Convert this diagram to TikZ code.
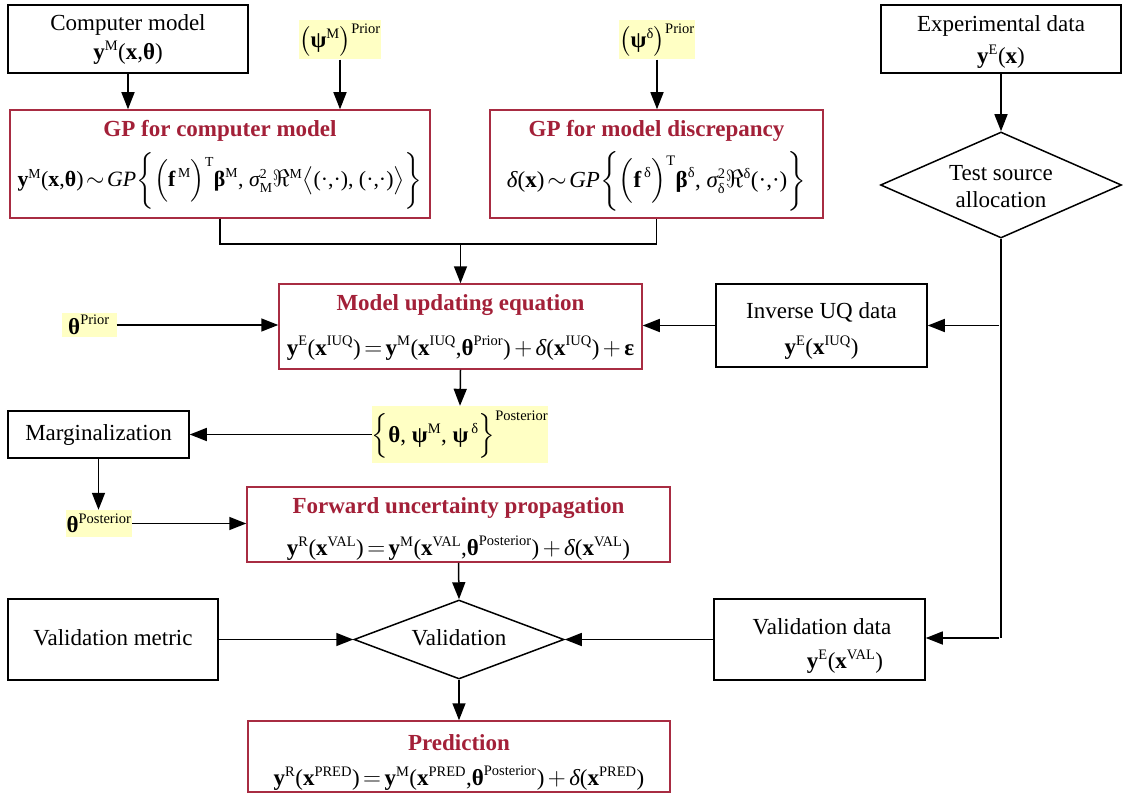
\documentclass[tikz,border=0pt]{standalone}
\usepackage{amsmath}
\usepackage{fontspec}
\setmainfont{Liberation Serif}
\usetikzlibrary{arrows.meta,shapes.geometric}

\definecolor{boxred}{RGB}{168,44,66}
\definecolor{titlered}{RGB}{163,32,56}
\definecolor{hilite}{RGB}{255,255,196}

% upright bold, upright roman and italic pieces set in the text font inside formulas
\newcommand\vbf[1]{\text{\bfseries #1}}
\newcommand\vrm[1]{\text{\normalfont #1}}
\newcommand\vit[1]{\text{\itshape #1}}
% small upright indices
\newcommand\vsp[1]{\text{\normalfont\fontsize{14.5}{15}\selectfont #1}}
% tight relations and operators
\newcommand\vsim{\mskip-3mu\sim\mskip-3mu}
\newcommand\veq{\mskip-2.5mu=\mskip-2.5mu}
\newcommand\vplus{\mskip-1.5mu+\mskip-1.5mu}

\begin{document}
\begin{tikzpicture}[x=1pt,y=-1pt,
  font=\fontsize{23}{27}\selectfont,
  blackbox/.style={draw=black,line width=1.5pt,fill=white,inner sep=0pt},
  redbox/.style={draw=boxred,line width=1.5pt,fill=white,inner sep=0pt},
  dia/.style={diamond,draw=black,line width=1.5pt,fill=white,inner sep=0pt},
  hl/.style={fill=hilite,inner sep=0pt},
  ttl/.style={text=titlered,font=\fontsize{23}{27}\selectfont\bfseries,inner sep=0pt},
  lbl/.style={inner sep=0pt},
  arr/.style={-{Triangle[length=17pt,width=13pt]},line width=1.5pt},
  ln/.style={line width=1.5pt}]

\useasboundingbox (0,0) rectangle (1123,794);

% ---------- top row ----------
\node[blackbox,minimum width=240,minimum height=68] (comp) at (128,39) {};
\node[lbl] (compT) at (128,25) {Computer model};
\node[lbl] (compE) at (128,53) {$\vbf{y}^{\vsp{M}}\vrm{(}\vbf{x}\vrm{,}\vbf{θ}\vrm{)}$};

\node[hl,minimum width=72,minimum height=39] (psiM) at (340,40)
  {$\bigl(\vbf{ψ}^{\vsp{M}}\bigr)^{\vsp{Prior}}$};
\node[hl,minimum width=66,minimum height=39] (psiD) at (657,40)
  {$\bigl(\vbf{ψ}^{\vsp{δ}}\bigr)^{\vsp{Prior}}$};

\node[blackbox,minimum width=240,minimum height=68] (exp) at (1001,39) {};
\node[lbl] (expT) at (1001,26) {Experimental data};
\node[lbl] (expE) at (1001,57) {$\vbf{y}^{\vsp{E}}\vrm{(}\vbf{x}\vrm{)}$};

% ---------- Gaussian process boxes ----------
\node[redbox,minimum width=420,minimum height=108] (gpm) at (220,164) {};
\node[ttl] (gpmT) at (220,131) {GP for computer model};
\node[lbl] (gpmE) at (220,181)
  {\scalebox{0.95}{$\vbf{y}^{\vsp{M}}\vrm{(}\vbf{x}\vrm{,}\vbf{θ}\vrm{)}\vsim\vit{GP}\biggl\{\Bigl(\vbf{f}^{\,\vsp{M}}\Bigr)^{\vsp{T}}\vbf{β}^{\vsp{M}}\vrm{, }\vit{σ}^{\vsp{2}}_{\vsp{M}}\Re^{\vsp{M}}\bigl\langle\vrm{(·,·), (·,·)}\bigr\rangle\biggr\}$}};

\node[redbox,minimum width=333,minimum height=108] (gpd) at (656.5,164) {};
\node[ttl] (gpdT) at (656.5,131) {GP for model discrepancy};
\node[lbl] (gpdE) at (656.5,181)
  {$\vit{δ}\vrm{(}\vbf{x}\vrm{)}\vsim\vit{GP}\biggl\{\Bigl(\vbf{f}^{\,\vsp{δ}}\Bigr)^{\vsp{T}}\vbf{β}^{\vsp{δ}}\vrm{, }\vit{σ}^{\vsp{2}}_{\vsp{δ}}\Re^{\vsp{δ}}\vrm{(·,·)}\biggr\}$};

\node[dia,minimum width=241,minimum height=106] (tsa) at (1001,185) {};
\node[lbl] (tsaT) at (1001,173) {Test source};
\node[lbl] (tsaB) at (1001,200) {allocation};

% ---------- model updating ----------
\node[redbox,minimum width=363,minimum height=85] (mue) at (460.5,326.5) {};
\node[ttl] (mueT) at (460.5,305) {Model updating equation};
\node[lbl] (mueE) at (460.5,348)
  {$\vbf{y}^{\vsp{E}}\vrm{(}\vbf{x}^{\vsp{IUQ}}\vrm{)}\veq\vbf{y}^{\vsp{M}}\vrm{(}\vbf{x}^{\vsp{IUQ}}\vrm{,}\vbf{θ}^{\vsp{Prior}}\vrm{)}\vplus\vit{δ}\vrm{(}\vbf{x}^{\vsp{IUQ}}\vrm{)}\vplus\vbf{ε}$};

\node[hl,minimum width=55,minimum height=24] (thP) at (89,325) {$\vbf{θ}^{\vsp{Prior}}$};

\node[blackbox,minimum width=211,minimum height=83] (iuq) at (821.5,325.5) {};
\node[lbl] (iuqT) at (821.5,312) {Inverse UQ data};
\node[lbl] (iuqE) at (821.5,348) {$\vbf{y}^{\vsp{E}}\vrm{(}\vbf{x}^{\vsp{IUQ}}\vrm{)}$};

% ---------- posterior ----------
\node[hl,minimum width=164,minimum height=57] (post) at (460,434.5)
  {$\Bigl\{\vbf{θ}\vrm{, }\vbf{ψ}^{\vsp{M}}\vrm{, }\vbf{ψ}^{\,\vsp{δ}}\Bigr\}^{\vsp{Posterior}}$};

\node[blackbox,minimum width=181,minimum height=47] (marg) at (98.5,434.5) {};
\node[lbl] (margT) at (98.5,435) {Marginalization};

\node[hl,minimum width=66,minimum height=27] (thPost) at (99,523.5) {$\vbf{θ}^{\vsp{Posterior}}$};

% ---------- forward propagation ----------
\node[redbox,minimum width=423,minimum height=75] (fup) at (458.5,524.5) {};
\node[ttl] (fupT) at (458.5,508) {Forward uncertainty propagation};
\node[lbl] (fupE) at (458.5,548)
  {$\vbf{y}^{\vsp{R}}\vrm{(}\vbf{x}^{\vsp{VAL}}\vrm{)}\veq\vbf{y}^{\vsp{M}}\vrm{(}\vbf{x}^{\vsp{VAL}}\vrm{,}\vbf{θ}^{\vsp{Posterior}}\vrm{)}\vplus\vit{δ}\vrm{(}\vbf{x}^{\vsp{VAL}}\vrm{)}$};

% ---------- validation ----------
\node[blackbox,minimum width=210,minimum height=81] (vm) at (113,639.5) {};
\node[lbl] (vmT) at (113,638) {Validation metric};

\node[dia,minimum width=210,minimum height=79] (val) at (459,639.5) {};
\node[lbl] (valT) at (459,638) {Validation};

\node[blackbox,minimum width=211,minimum height=81] (vd) at (819.5,639.5) {};
\node[lbl] (vdT) at (822,627) {Validation data};
\node[lbl] (vdE) at (845,662) {$\vbf{y}^{\vsp{E}}\vrm{(}\vbf{x}^{\vsp{VAL}}\vrm{)}$};

% ---------- prediction ----------
\node[redbox,minimum width=422,minimum height=71] (pred) at (459,756.5) {};
\node[ttl] (predT) at (459,743) {Prediction};
\node[lbl] (predE) at (459,778)
  {$\vbf{y}^{\vsp{R}}\vrm{(}\vbf{x}^{\vsp{PRED}}\vrm{)}\veq\vbf{y}^{\vsp{M}}\vrm{(}\vbf{x}^{\vsp{PRED}}\vrm{,}\vbf{θ}^{\vsp{Posterior}}\vrm{)}\vplus\vit{δ}\vrm{(}\vbf{x}^{\vsp{PRED}}\vrm{)}$};

% ---------- connectors ----------
\draw[arr] (comp.south) -- (comp.south |- gpm.north);
\draw[arr] (psiM.south) -- (psiM.south |- gpm.north);
\draw[arr] (psiD.south) -- (psiD.south |- gpd.north);
\draw[arr] (exp.south) -- (tsa.north);

\coordinate (join) at (460.5,244);
\draw[ln] (gpm.south) |- (join) -| (gpd.south);
\draw[arr] (join) -- (mue.north);

\draw[arr] (thP.east) -- (thP.east -| mue.west);
\draw[arr] (iuq.west) -- (iuq.west -| mue.east);

\coordinate (rail) at (999,638);
\draw[ln] (tsa.south) -- (tsa.south |- rail);
\draw[arr] (rail |- iuq.east) -- (iuq.east);
\draw[arr] (rail) -- (rail -| vd.east);

\draw[arr] (mue.south) -- (post.north);
\draw[arr] (post.west) -- (post.west -| marg.east);
\draw[arr] (marg.south) -- (marg.south |- thPost.north);
\draw[arr] (thPost.east) -- (thPost.east -| fup.west);

\draw[arr] (fup.south) -- (val.north);
\draw[arr] (vm.east) -- (vm.east -| val.west);
\draw[arr] (vd.west) -- (vd.west -| val.east);
\draw[arr] (val.south) -- (pred.north);
\end{tikzpicture}
\end{document}
